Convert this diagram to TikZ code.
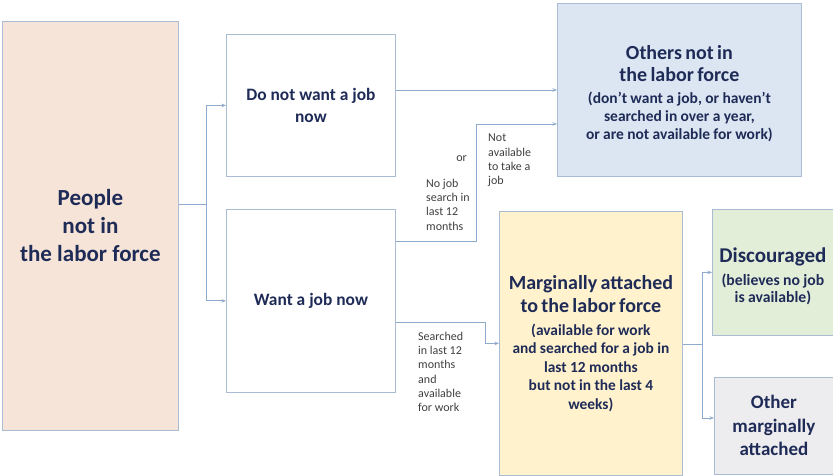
\documentclass[tikz,border=0pt]{standalone}
\usepackage{fontspec}
\setmainfont{Carlito}
\usetikzlibrary{arrows.meta}
\definecolor{navy}{HTML}{1F2B57}
\definecolor{edge}{HTML}{A9BCD3}
\definecolor{wire}{HTML}{8EAACC}
\definecolor{lbl}{HTML}{404040}
\definecolor{peach}{HTML}{F5E4D7}
\definecolor{bluefill}{HTML}{DCE6F2}
\definecolor{yellowfill}{HTML}{FFF2CD}
\definecolor{greenfill}{HTML}{E3EED9}
\definecolor{grayfill}{HTML}{EDEDEF}
\begin{document}
\begin{tikzpicture}[x=1pt,y=-1pt,
  box/.style={draw=edge, line width=0.8pt, anchor=north west, inner sep=0pt, align=center, text=navy, font=\bfseries},
  conn/.style={draw=wire, line width=0.9pt},
  arr/.style={conn, -{Stealth[length=4.5pt,width=3.5pt]}},
  lab/.style={font=\fontsize{12}{14.2}\selectfont, text=lbl, align=left, anchor=north west, inner sep=0pt},
  big/.style={font=\fontsize{23}{28}\selectfont\bfseries},
  mid/.style={font=\fontsize{17.4}{22}\selectfont\bfseries}]
\useasboundingbox (0,0) rectangle (833,476);
\fill[white] (0,0) rectangle (833,476);

\node[box, fill=peach, minimum width=176pt, minimum height=409pt, big] (people) at (2,21)
  {People\\not in\\the labor force};
\node[box, fill=white, minimum width=169pt, minimum height=142pt, mid] (donot) at (226,34)
  {Do not want a job\\now};
\node[box, fill=white, minimum width=169pt, minimum height=183pt, mid] (want) at (226,209)
  {Want a job now};
\node[box, fill=bluefill, minimum width=244pt, minimum height=173pt, text width=240pt] (others) at (557,3)
  {\fontsize{20}{22.5}\selectfont \rule{0pt}{21pt}Others not in\\the labor force\par\vspace{3.5pt}
   \fontsize{15.5}{18}\selectfont (don’t want a job, or haven’t\\searched in over a year,\\or are not available for work)\par};
\node[box, fill=yellowfill, minimum width=183pt, minimum height=264pt, text width=180pt] (marg) at (499,211)
  {\fontsize{20}{23}\selectfont Marginally attached\\to the labor force\par\vspace{4pt}
   \fontsize{15.4}{18.5}\selectfont (available for work\\and searched for a job in\\last 12 months\\but not in the last 4\\weeks)\par};
\node[box, fill=greenfill, minimum width=121pt, minimum height=126pt, text width=120pt] (disc) at (712,209)
  {\fontsize{21}{22}\selectfont \rule{0pt}{22pt}Discouraged\par\vspace{6pt}
   \fontsize{15.7}{17}\selectfont (believes no job\\is available)\par};
\node[box, fill=grayfill, minimum width=119pt, minimum height=97pt, font=\fontsize{19}{23.5}\selectfont\bfseries] (othm) at (714,377)
  {Other\\marginally\\attached};

% connectors
\coordinate (pj) at (206,204);
\draw[conn] (people.east |- pj) -- (pj);
\draw[arr] (pj) |- (donot.west);
\draw[arr] (pj) |- (want.west);

\draw[arr] (donot.east |- 0,90) -- (others.west |- 0,90);

\coordinate (c1) at (476,241);
\draw[arr] (want.east |- c1) -- (c1) |- (others.west |- 0,124);

\coordinate (c2) at (485,322);
\draw[arr] (want.east |- c2) -- (c2) |- (marg.west);

\coordinate (c3) at (702,344);
\draw[conn] (marg.east |- c3) -- (c3);
\draw[arr] (c3) |- (disc.west);
\draw[arr] (c3) |- (othm.west |- 0,418);

% labels
\node[lab, anchor=east] (lor) at (467,159) {or};
\node[lab] (lnojob) at (426,179) {No job\\search in\\last 12\\months};
\node[lab] (lnotav) at (488,134) {Not\\available\\to take a\\job};
\node[lab] (lsearch) at (418,332) {Searched\\in last 12\\months\\and\\available\\for work};
\end{tikzpicture}
\end{document}
